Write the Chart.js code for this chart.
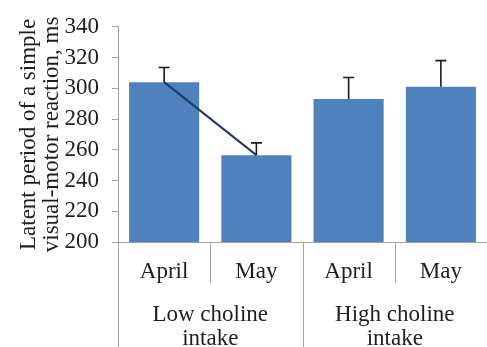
<!DOCTYPE html>
<html>
<head>
<meta charset="utf-8">
<script src="https://cdn.jsdelivr.net/npm/chart.js@4"></script>
<style>
  body { margin: 0; background: #ffffff; }
</style>
</head>
<body>
<canvas id="reactionChart" width="487" height="347"></canvas>
<script>
// chart values
var monthLabels = ["April", "May", "April", "May"];
var groupLabels = [["Low choline", "intake"], ["High choline", "intake"]];
var groupSizes = [2, 2];
var latentMeans = [304, 256.5, 293, 301];
var latentErrors = [9.5, 8, 14, 17];
var trendValues = [304, 256.5, null, null];
var yTicks = [200, 220, 240, 260, 280, 300, 320, 340];

var fontName = "'Liberation Serif', 'Times New Roman', serif";
var fontSize = 23;
var textColor = "#1e1e1e";
var axisColor = "#a3a3a3";

// error bars (upper only) drawn on top of the bars
var errorBarPlugin = {
    id: "errorBars",
    afterDatasetsDraw: function (chart) {
        var ctx = chart.ctx;
        var yScale = chart.scales.y;
        var meta = chart.getDatasetMeta(1);
        var i;
        ctx.save();
        ctx.strokeStyle = "#1a1a1a";
        ctx.lineWidth = 1.6;
        for (i = 0; i < latentMeans.length; i++) {
            var x = meta.data[i].x;
            var yTop = yScale.getPixelForValue(latentMeans[i]);
            var yErr = yScale.getPixelForValue(latentMeans[i] + latentErrors[i]);
            ctx.beginPath();
            ctx.moveTo(x, yTop);
            ctx.lineTo(x, yErr);
            ctx.moveTo(x - 5.5, yErr);
            ctx.lineTo(x + 5.5, yErr);
            ctx.stroke();
        }
        ctx.restore();
    }
};

// two level category axis: months on top, intake groups below
var groupAxisPlugin = {
    id: "groupAxis",
    afterDraw: function (chart) {
        var ctx = chart.ctx;
        var xScale = chart.scales.x;
        var yScale = chart.scales.y;
        var area = chart.chartArea;
        var bottom = area.bottom;
        var full = chart.height;
        var step = xScale.getPixelForValue(1) - xScale.getPixelForValue(0);
        var i, g;

        ctx.save();
        ctx.strokeStyle = axisColor;
        ctx.lineWidth = 1;

        // axis line
        ctx.beginPath();
        ctx.moveTo(yScale.right - 6, bottom + 0.5);
        ctx.lineTo(area.right, bottom + 0.5);
        ctx.stroke();

        // separators between months and between groups
        var index = 0;
        var edges = [0];
        for (g = 0; g < groupSizes.length; g++) {
            index += groupSizes[g];
            edges.push(index);
        }
        for (i = 0; i <= monthLabels.length; i++) {
            var sx = Math.round(xScale.getPixelForValue(i) - step / 2) + 0.5;
            var isEdge = edges.indexOf(i) >= 0;
            ctx.beginPath();
            ctx.moveTo(sx, bottom);
            ctx.lineTo(sx, isEdge ? full : bottom + 41);
            ctx.stroke();
        }

        ctx.fillStyle = textColor;
        ctx.font = fontSize + "px " + fontName;
        ctx.textAlign = "center";
        ctx.textBaseline = "middle";
        for (i = 0; i < monthLabels.length; i++) {
            ctx.fillText(monthLabels[i], xScale.getPixelForValue(i), bottom + 30);
        }

        index = 0;
        for (g = 0; g < groupLabels.length; g++) {
            var first = xScale.getPixelForValue(index) - step / 2;
            var last = xScale.getPixelForValue(index + groupSizes[g] - 1) + step / 2;
            var cx = (first + last) / 2;
            ctx.fillText(groupLabels[g][0], cx, bottom + 73);
            ctx.fillText(groupLabels[g][1], cx, bottom + 97);
            index += groupSizes[g];
        }
        ctx.restore();
    }
};

var reactionContext = document.getElementById("reactionChart").getContext("2d");

var reactionChart = new Chart(reactionContext, {
    data: {
        labels: monthLabels,
        datasets: [{
            type: "line",
            label: "Trend",
            data: trendValues,
            borderColor: "#1f3a60",
            borderWidth: 2,
            pointRadius: 0,
            fill: false,
            spanGaps: false,
            order: 0
        },
        {
            type: "bar",
            label: "Latent period",
            data: latentMeans,
            backgroundColor: "#4f81bd",
            borderWidth: 0,
            barPercentage: 0.76,
            categoryPercentage: 1.0,
            order: 1
        }
        ]
    },
    options: {
        responsive: false,
        animation: false,
        devicePixelRatio: 1,
        layout: {
            padding: { top: 20, right: 0, left: 0, bottom: 0 }
        },
        plugins: {
            legend: { display: false },
            tooltip: { enabled: false }
        },
        scales: {
            x: {
                type: "category",
                offset: true,
                grid: { display: false },
                border: { display: false },
                ticks: { display: false },
                afterFit: function (scale) {
                    scale.height = 105;
                }
            },
            y: {
                min: 200,
                max: 340,
                afterBuildTicks: function (scale) {
                    scale.ticks = yTicks.map(function (v) { return { value: v }; });
                },
                grid: {
                    drawOnChartArea: false,
                    color: axisColor,
                    tickLength: 6
                },
                border: { color: axisColor, width: 1 },
                ticks: {
                    color: textColor,
                    padding: 13,
                    font: { family: fontName, size: fontSize }
                },
                title: {
                    display: true,
                    text: ["Latent period of a simple", "visual-motor reaction, ms"],
                    color: textColor,
                    font: { family: fontName, size: fontSize, lineHeight: 1.0 },
                    padding: { top: 17, bottom: 0 }
                },
                afterFit: function (scale) {
                    scale.width = 118;
                }
            }
        }
    },
    plugins: [errorBarPlugin, groupAxisPlugin]
});
</script>
</body>
</html>
